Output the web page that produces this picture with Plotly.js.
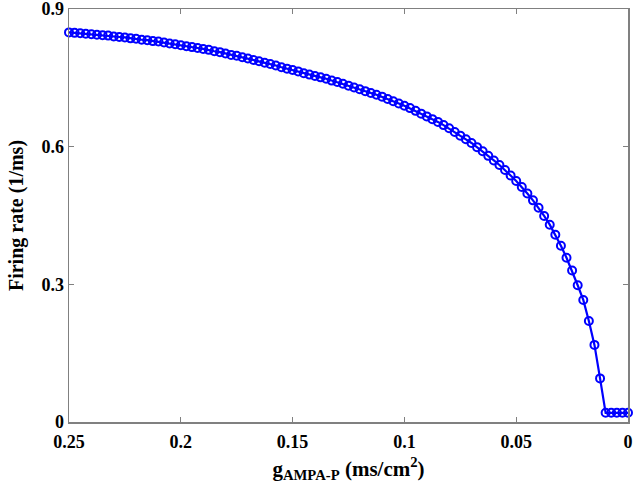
<!DOCTYPE html>
<html>
<head>
<meta charset="utf-8">
<script src="https://cdn.plot.ly/plotly-3.0.1.min.js"></script>
<style>html,body{margin:0;padding:0;background:#fff;}#chart{width:644px;height:489px;}</style>
</head>
<body>
<div id="chart"></div>
<script>
// g_AMPA-P (ms/cm^2)
const gAMPA = [
  0, 0.0025, 0.005, 0.0075, 0.01, 0.0125, 0.015, 0.0175, 0.02, 0.0225,
  0.025, 0.0275, 0.03, 0.0325, 0.035, 0.0375, 0.04, 0.0425, 0.045, 0.0475,
  0.05, 0.0525, 0.055, 0.0575, 0.06, 0.0625, 0.065, 0.0675, 0.07, 0.0725,
  0.075, 0.0775, 0.08, 0.0825, 0.085, 0.0875, 0.09, 0.0925, 0.095, 0.0975,
  0.1, 0.1025, 0.105, 0.1075, 0.11, 0.1125, 0.115, 0.1175, 0.12, 0.1225,
  0.125, 0.1275, 0.13, 0.1325, 0.135, 0.1375, 0.14, 0.1425, 0.145, 0.1475,
  0.15, 0.1525, 0.155, 0.1575, 0.16, 0.1625, 0.165, 0.1675, 0.17, 0.1725,
  0.175, 0.1775, 0.18, 0.1825, 0.185, 0.1875, 0.19, 0.1925, 0.195, 0.1975,
  0.2, 0.2025, 0.205, 0.2075, 0.21, 0.2125, 0.215, 0.2175, 0.22, 0.2225,
  0.225, 0.2275, 0.23, 0.2325, 0.235, 0.2375, 0.24, 0.2425, 0.245, 0.2475,
  0.25
];
// Firing rate (1/ms)
const firingRate = [
  0.02, 0.02, 0.02, 0.02, 0.02, 0.095, 0.168, 0.220, 0.266, 0.298,
  0.330, 0.358, 0.384, 0.408, 0.430, 0.449, 0.467, 0.483, 0.498, 0.512,
  0.525, 0.537, 0.549, 0.560, 0.570, 0.580, 0.590, 0.599, 0.608, 0.616,
  0.624, 0.632, 0.640, 0.647, 0.654, 0.660, 0.666, 0.672, 0.678, 0.684,
  0.689, 0.694, 0.699, 0.704, 0.709, 0.713, 0.717, 0.721, 0.725, 0.729,
  0.733, 0.737, 0.741, 0.744, 0.748, 0.751, 0.754, 0.757, 0.760, 0.764,
  0.767, 0.770, 0.773, 0.777, 0.780, 0.783, 0.786, 0.789, 0.792, 0.795,
  0.798, 0.800, 0.803, 0.806, 0.808, 0.811, 0.813, 0.815, 0.817, 0.819,
  0.821, 0.823, 0.825, 0.827, 0.829, 0.830, 0.832, 0.833, 0.835, 0.836,
  0.838, 0.839, 0.840, 0.842, 0.843, 0.844, 0.845, 0.846, 0.847, 0.848,
  0.849
];
const xTicks = [0.25, 0.2, 0.15, 0.1, 0.05, 0];
const yTicks = [0, 0.3, 0.6, 0.9];

const tickFont = {family: '"Liberation Serif", "Times New Roman", serif', size: 18, color: '#000', weight: 'bold'};
const titleFont = {family: '"Liberation Serif", "Times New Roman", serif', size: 20, color: '#000', weight: 'bold'};
const xTitleFont = {family: '"Liberation Serif", "Times New Roman", serif', size: 21, color: '#000', weight: 'bold'};

const trace = {
  x: gAMPA, y: firingRate,
  type: 'scatter', mode: 'lines+markers',
  line: {color: '#0000ff', width: 2.2},
  marker: {symbol: 'circle-open', size: 8, color: '#0000ff', line: {width: 2, color: '#0000ff'}},
  cliponaxis: false,
  hoverinfo: 'skip'
};

const axisCommon = {
  showgrid: false, zeroline: false,
  showline: true, linecolor: '#808080', linewidth: 1.5, mirror: 'ticks',
  ticks: 'inside', ticklen: 5, tickwidth: 1, tickcolor: '#808080',
  tickfont: tickFont, ticklabeloverflow: 'allow'
};

const layout = {
  width: 644, height: 489,
  margin: {l: 69, r: 16, t: 9, b: 67},
  paper_bgcolor: '#fff', plot_bgcolor: '#fff',
  showlegend: false,
  font: tickFont,
  xaxis: Object.assign({}, axisCommon, {
    range: [0.25, 0], tickvals: xTicks, ticklabelstandoff: 3,
    title: {text: '<b>g<sub>AMPA-P</sub> (ms/cm<sup>2</sup>)</b>', font: xTitleFont, standoff: 10}
  }),
  yaxis: Object.assign({}, axisCommon, {
    range: [0, 0.9], tickvals: yTicks,
    title: {text: '<b>Firing rate (1/ms)</b>', font: titleFont, standoff: 12}
  })
};

Plotly.newPlot('chart', [trace], layout, {displayModeBar: false, staticPlot: true});
</script>
</body>
</html>
